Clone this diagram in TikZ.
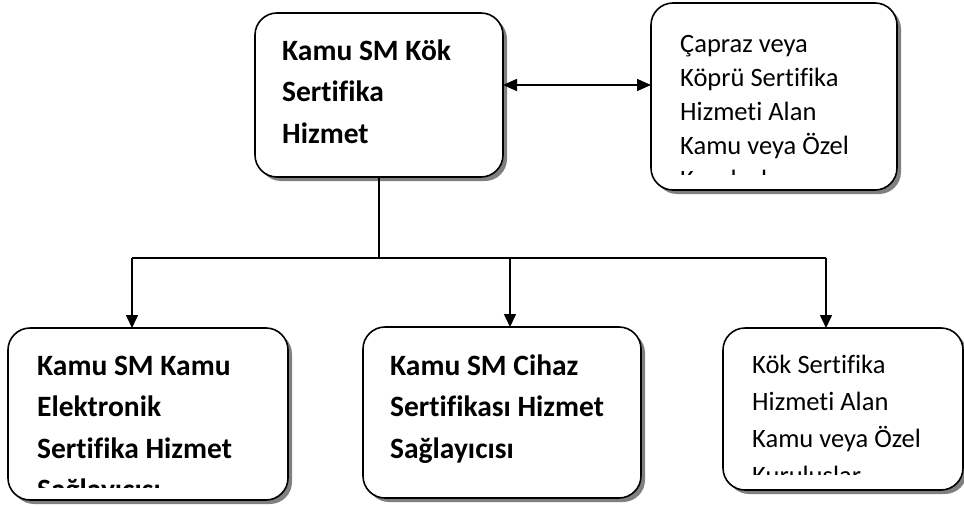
\documentclass[tikz,border=0pt]{standalone}
\usepackage{fontspec}
\setmainfont{Carlito}[Ligatures=NoCommon]
\usetikzlibrary{arrows.meta,shadows}
\begin{document}
\begin{tikzpicture}[x=1pt,y=-1pt,
  boxs/.style={draw, line width=1.6pt, rounded corners=22pt, fill=white, inner sep=0pt, outer sep=0pt,
    anchor=north west, drop shadow={shadow xshift=4pt, shadow yshift=-4pt, fill=black!50, opacity=1}},
  boldtxt/.style={anchor=base west, align=left, inner sep=0pt, font=\fontsize{29.5}{41.5}\selectfont\bfseries},
  regtxt/.style={anchor=base west, align=left, inner sep=0pt, font=\fontsize{26.5}{34}\selectfont},
  conn/.style={line width=1.6pt},
  arr/.style={conn, -{Triangle[length=13pt,width=12pt]}},
  darr/.style={conn, {Triangle[length=14pt,width=12pt]}-{Triangle[length=14pt,width=12pt]}}
]
\useasboundingbox (0,0) rectangle (964,506);

% boxes
\node[boxs, minimum width=248pt, minimum height=164pt] (root) at (255,13) {};
\node[boxs, minimum width=246pt, minimum height=187pt] (cross) at (651,3) {};
\node[boxs, minimum width=280pt, minimum height=172pt] (c1) at (8,328) {};
\node[boxs, minimum width=278pt, minimum height=171pt] (c2) at (363,327) {};
\node[boxs, minimum width=240pt, minimum height=162pt] (c3) at (723,328) {};

% texts (anchor = baseline of the last line)
\node[boldtxt] (troot) at (282,143) {Kamu SM Kök\\Sertifika\\Hizmet};
\begin{scope}
  \clip (655,5) rectangle (895,174);
  \node[regtxt] (tcross) at (680,188) {Çapraz veya\\Köprü Sertifika\\Hizmeti Alan\\Kamu veya Özel\\Kuruluşlar};
\end{scope}
\begin{scope}
  \clip (10,330) rectangle (286,487);
  \node[boldtxt] (tc1) at (37,499.5) {Kamu SM Kamu\\Elektronik\\Sertifika Hizmet\\Sağlayıcısı};
\end{scope}
\node[boldtxt] (tc2) at (390,458) {Kamu SM Cihaz\\Sertifikası Hizmet\\Sağlayıcısı};
\begin{scope}
  \clip (725,330) rectangle (961,474);
  \node[regtxt, font=\fontsize{26.5}{37}\selectfont] (tc3) at (752,484) {Kök Sertifika\\Hizmeti Alan\\Kamu veya Özel\\Kuruluşlar};
\end{scope}

% connectors
\coordinate (j) at (379,258);
\coordinate (b1) at (132,258);
\coordinate (b2) at (510,258);
\coordinate (b3) at (826,258);
\coordinate (h) at (0,85);
\draw[conn] (root.south -| j) -- (j);
\draw[conn] (b1) -- (b3);
\draw[arr] (b1) -- (b1 |- c1.north);
\draw[arr] (b2) -- (b2 |- c2.north);
\draw[arr] (b3) -- (b3 |- c3.north);
\draw[darr] (root.east |- h) -- (cross.west |- h);
\end{tikzpicture}
\end{document}
